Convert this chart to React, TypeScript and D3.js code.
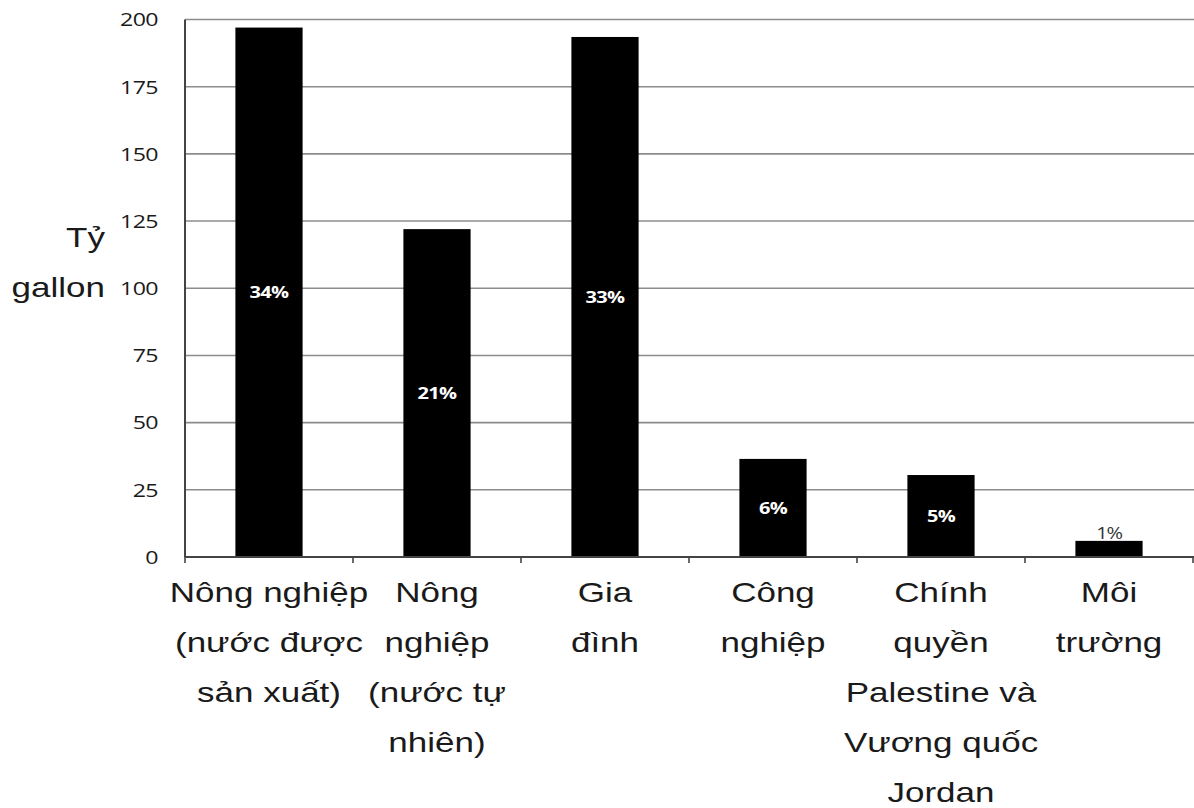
import React from "react";
import * as d3 from "d3";

const categories: string[][] = [
  ["Nông nghiệp", "(nước được", "sản xuất)"],
  ["Nông", "nghiệp", "(nước tự", "nhiên)"],
  ["Gia", "đình"],
  ["Công", "nghiệp"],
  ["Chính", "quyền", "Palestine và", "Vương quốc", "Jordan"],
  ["Môi", "trường"],
];
const values: number[] = [197, 122, 193.5, 36.5, 30.5, 6];
const percents: string[] = ["34%", "21%", "33%", "6%", "5%", "1%"];
const yTicks: number[] = [0, 25, 50, 75, 100, 125, 150, 175, 200];
const yTitle: string[] = ["Tỷ", "gallon"];

export default function App() {
  const W = 1194;
  const H = 808;
  const left = 185;
  const right = 1193;
  const top = 19.5;
  const bottom = 557;
  const sx = 1.25;

  const x = d3
    .scaleBand<number>()
    .domain(d3.range(categories.length))
    .range([left, right])
    .paddingInner(0.6)
    .paddingOuter(0.3);
  const xb = d3
    .scaleBand<number>()
    .domain(d3.range(categories.length))
    .range([left, right]);
  const y = d3.scaleLinear().domain([0, 200]).range([bottom, top]);

  const tickFont = "'Open Sans', 'DejaVu Sans', sans-serif";
  const labelFont = "'Liberation Sans', Arial, sans-serif";

  return (
    <svg
      width={W}
      height={H}
      style={{ position: "absolute", left: 0, top: 0, background: "#fff" }}
    >
      <rect x={0} y={0} width={W} height={H} fill="#fff" />
      {/* gridlines */}
      {yTicks
        .filter((t) => t > 0)
        .map((t) => (
          <line
            key={t}
            x1={left}
            x2={W}
            y1={y(t)}
            y2={y(t)}
            stroke="#8c8c8c"
            strokeWidth={1.6}
          />
        ))}
      {/* bars */}
      {values.map((v, i) => (
        <rect
          key={i}
          x={x(i)}
          y={y(v)}
          width={x.bandwidth()}
          height={y(0) - y(v)}
          fill="#000"
        />
      ))}
      {/* percent labels */}
      {values.map((v, i) => {
        const cx = (x(i) as number) + x.bandwidth() / 2;
        const inside = y(0) - y(v) > 30;
        return inside ? (
          <g key={i} transform={`translate(${cx},${(y(v) + y(0)) / 2}) scale(${sx},1)`}>
            <text
              dy="0.36em"
              textAnchor="middle"
              fill="#fff"
              fontFamily={tickFont}
              fontWeight="bold"
              fontSize={16}
              letterSpacing={-0.5}
            >
              {percents[i]}
            </text>
          </g>
        ) : (
          <g key={i} transform={`translate(${cx},${y(v) - 2}) scale(${sx},1)`}>
            <text
              textAnchor="middle"
              fill="#333"
              fontFamily={tickFont}
              fontSize={16}
              letterSpacing={-1}
            >
              {percents[i]}
            </text>
          </g>
        );
      })}
      {/* axes */}
      <line x1={left} x2={left} y1={top} y2={bottom} stroke="#444" strokeWidth={2} />
      <line x1={left} x2={W} y1={bottom} y2={bottom} stroke="#444" strokeWidth={2} />
      {d3.range(categories.length + 1).map((i) => {
        const bx = i < categories.length ? (xb(i) as number) : right;
        return (
          <line
            key={i}
            x1={bx}
            x2={bx}
            y1={bottom}
            y2={bottom + 6}
            stroke="#444"
            strokeWidth={1.6}
          />
        );
      })}
      {/* y tick labels */}
      {yTicks.map((t) => (
        <g key={t} transform={`translate(158,${y(t)}) scale(1.22,1)`}>
          <text
            dy="0.36em"
            textAnchor="end"
            fontFamily={tickFont}
            fontSize={19}
            fill="#1a1a1a"
            letterSpacing={-0.5}
          >
            {t}
          </text>
        </g>
      ))}
      {/* y title */}
      {yTitle.map((s, i) => (
        <g key={s} transform={`translate(105,${247 + i * 50}) scale(${sx},1)`}>
          <text textAnchor="end" fontFamily={labelFont} fontSize={28} fill="#1a1a1a">
            {s}
          </text>
        </g>
      ))}
      {/* category labels */}
      {categories.map((lines, i) => {
        const cx = (xb(i) as number) + xb.bandwidth() / 2;
        return (
          <g key={i} transform={`translate(${cx},0) scale(${sx},1)`}>
            <text textAnchor="middle" fontFamily={labelFont} fontSize={28} fill="#1a1a1a">
              {lines.map((l, j) => (
                <tspan key={j} x={0} y={602 + j * 50}>
                  {l}
                </tspan>
              ))}
            </text>
          </g>
        );
      })}
    </svg>
  );
}
